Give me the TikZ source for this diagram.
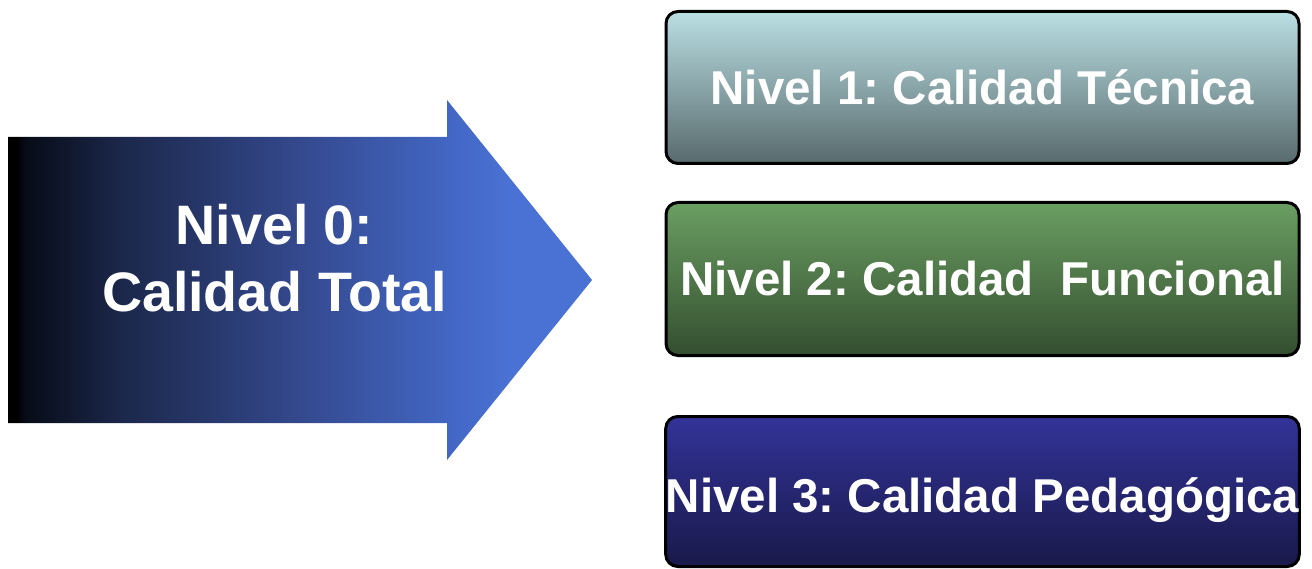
\documentclass[tikz,border=0pt]{standalone}
\usepackage{fontspec}
\setmainfont{Liberation Sans}
\frenchspacing
\definecolor{bOneTop}{HTML}{BADFE3}
\definecolor{bOneMid}{HTML}{9BBDC0}
\definecolor{bOneBot}{HTML}{586A6D}
\definecolor{bTwoTop}{HTML}{6A9E62}
\definecolor{bTwoMid}{HTML}{588A50}
\definecolor{bTwoBot}{HTML}{344E2F}
\definecolor{bThrTop}{HTML}{333399}
\definecolor{bThrMid}{HTML}{272A78}
\definecolor{bThrBot}{HTML}{19194A}
\pgfdeclarehorizontalshading{arrowshade}{100bp}{%
  color(0bp)=(black);
  color(25bp)=(black);
  color(25.75bp)=(black);
  color(26.5bp)=({rgb,255:red,8;green,12;blue,24});
  color(35bp)=({rgb,255:red,28;green,40;blue,76});
  color(50bp)=({rgb,255:red,52;green,73;blue,142});
  color(64bp)=({rgb,255:red,68;green,105;blue,200});
  color(68bp)=({rgb,255:red,74;green,114;blue,212});
  color(100bp)=({rgb,255:red,74;green,114;blue,212})}
\tikzset{
  levelbox/.style={draw=black, line width=3pt, rounded corners=12pt,
    inner sep=0pt, minimum width=633pt, text=white,
    font=\bfseries\fontsize{47.5}{57}\selectfont, text depth=0pt, text height=34pt},
  arrowtext/.style={text=white, align=center, inner sep=0pt,
    font=\bfseries\fontsize{55.6}{67}\selectfont}
}
\begin{document}
\begin{tikzpicture}[x=1pt, y=-1pt]
\useasboundingbox (0,0) rectangle (1312,569);
% big arrow
\shade[shading=arrowshade]
  (8,137) -- (447,137) -- (447,100) -- (592,280) -- (447,460) -- (447,423) -- (8,423) -- cycle;
\node[arrowtext] (n0) at (274.5,258.5) {Nivel 0:\\Calidad Total};
% level boxes
\node[levelbox, minimum height=152pt, top color=bOneTop, middle color=bOneMid, bottom color=bOneBot]
  (n1) at (982.5,87.5) {Nivel 1: Calidad Técnica};
\node[levelbox, minimum height=153pt, top color=bTwoTop, middle color=bTwoMid, bottom color=bTwoBot]
  (n2) at (982.5,279) {Nivel 2: Calidad\ \ Funcional};
\node[levelbox, minimum height=150pt, text height=41pt, top color=bThrTop, middle color=bThrMid, bottom color=bThrBot]
  (n3) at (982.5,491.5) {Nivel 3: Calidad Pedagógica};
\end{tikzpicture}
\end{document}
